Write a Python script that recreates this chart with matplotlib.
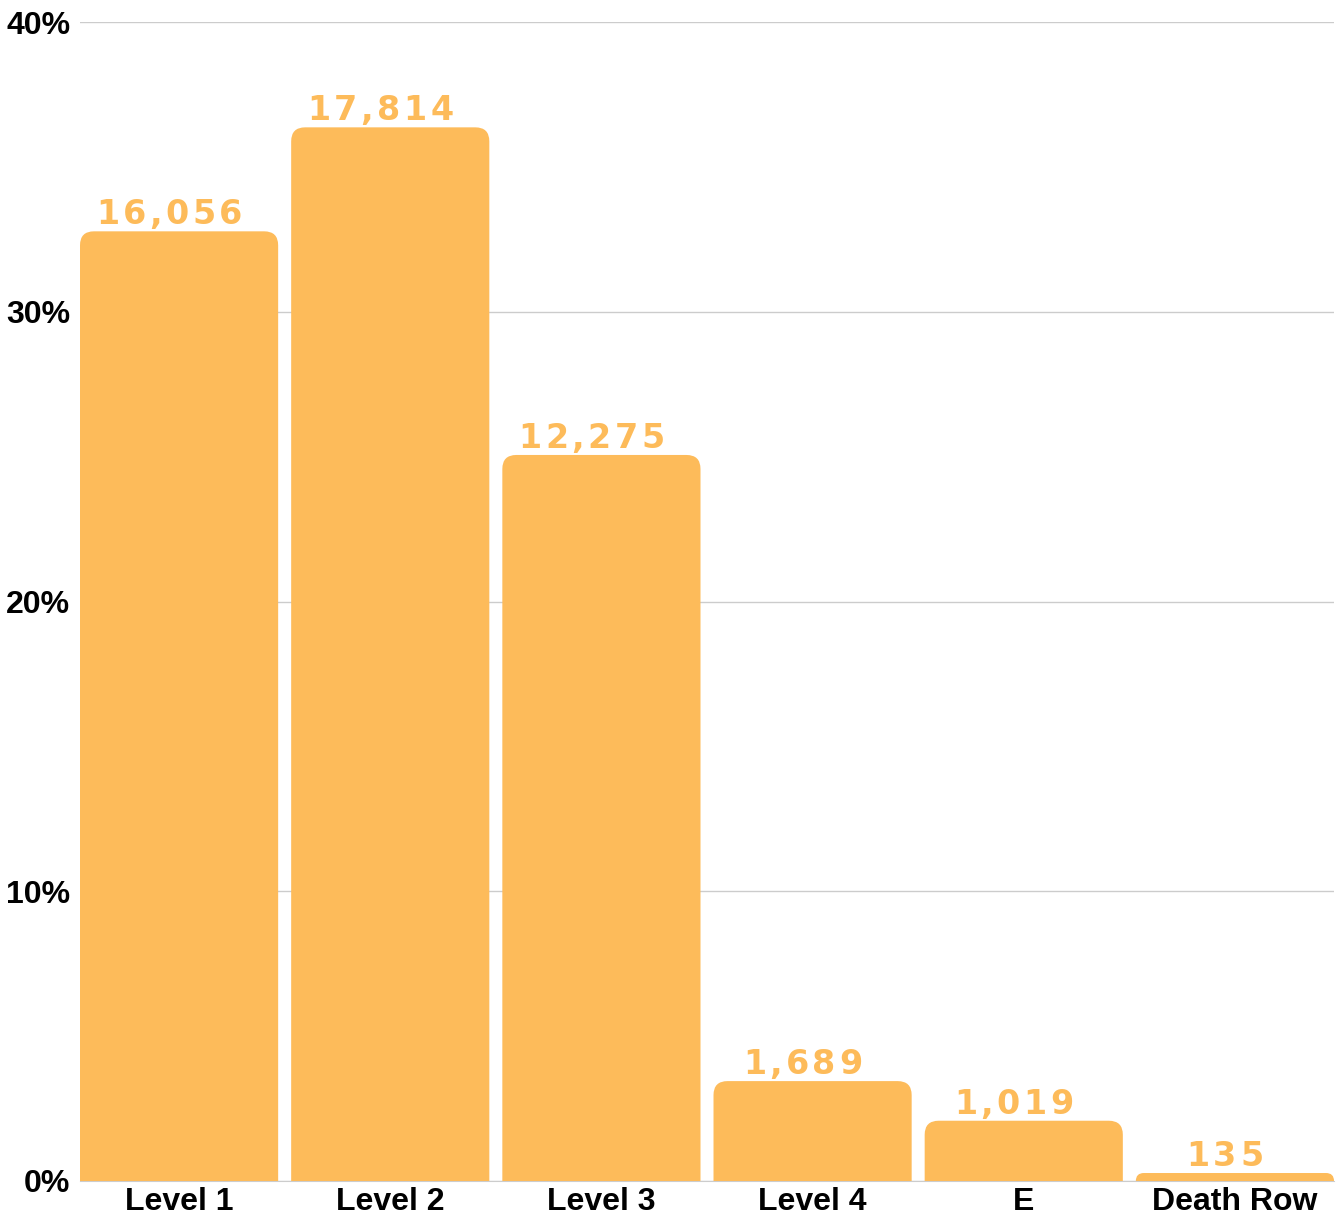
import matplotlib.pyplot as plt
from matplotlib.path import Path
from matplotlib.patches import PathPatch
from matplotlib.font_manager import FontProperties

categorias = ["Level 1", "Level 2", "Level 3", "Level 4", "E", "Death Row"]
cantidades = [16056, 17814, 12275, 1689, 1019, 135]
ticks_y = [0, 10, 20, 30, 40]

total = sum(cantidades)
porcentajes = [c / total * 100 for c in cantidades]

naranja = "#FDBB5A"

fig = plt.figure(figsize=(13.38, 12.15), dpi=100)
ax = fig.add_axes([80 / 1338, 1 - 1181 / 1215, 1254 / 1338, 1159 / 1215])

ancho = 198 / 211
barras = ax.bar(range(len(categorias)), porcentajes, width=ancho, color="none")

# barras con esquinas redondeadas arriba (una sola figura, sin costuras)
px_x = 211.0
px_y = 1159 / 40
for b in barras:
    x0, w, h = b.get_x(), b.get_width(), b.get_height()
    r_px = min(14.0, h * px_y)
    rx = r_px / px_x
    ry = r_px / px_y
    x1 = x0 + w
    verts = [(x0, 0), (x0, h - ry), (x0, h), (x0 + rx, h),
             (x1 - rx, h), (x1, h), (x1, h - ry), (x1, 0), (x0, 0)]
    codes = [Path.MOVETO, Path.LINETO, Path.CURVE3, Path.CURVE3,
             Path.LINETO, Path.CURVE3, Path.CURVE3, Path.LINETO, Path.CLOSEPOLY]
    ax.add_patch(PathPatch(Path(verts, codes), fc=naranja, ec="none", zorder=2))

ax.set_xlim(-ancho / 2, len(categorias) - 1 + ancho / 2)
ax.set_ylim(0, 40)

# etiquetas con espaciado entre letras
fp = FontProperties(family="DejaVu Sans", weight="bold", size=24)
renderer = fig.canvas.get_renderer()


def avance(ch):
    w = lambda s: renderer.get_text_width_height_descent(s, fp, ismath=False)[0]
    return w("0" + ch + "0") - w("00")


espacio = 3.5  # px
for i, (p, c) in enumerate(zip(porcentajes, cantidades)):
    texto = f"{c:,}"
    anchos = [avance(ch) for ch in texto]
    total_px = sum(anchos) + espacio * (len(texto) - 1)
    xc, yc = ax.transData.transform((i, p))
    xpos = xc - total_px / 2 - 10
    for ch, a in zip(texto, anchos):
        ax.annotate(ch, (i, p), xycoords="data",
                    xytext=((xpos + a / 2 - xc) * 72 / fig.dpi, 0), textcoords="offset points",
                    ha="center", va="bottom", color=naranja, fontproperties=fp, zorder=3)
        xpos += a + espacio

ax.set_yticks(ticks_y)
ax.set_yticklabels([f"{t}%" for t in ticks_y])
ax.set_xticks(range(len(categorias)))
ax.set_xticklabels(categorias)
for lab in ax.get_xticklabels() + ax.get_yticklabels():
    lab.set_family("Liberation Sans")
    lab.set_fontweight("bold")
    lab.set_fontsize(23)
ax.tick_params(length=0)
ax.tick_params(axis="x", pad=4)
ax.tick_params(axis="y", pad=7)
ax.grid(axis="y", color="#cccccc", linewidth=1, zorder=0)
ax.set_axisbelow(True)
for s in ["top", "right", "left"]:
    ax.spines[s].set_visible(False)
ax.spines["bottom"].set_color("#cccccc")
ax.spines["bottom"].set_zorder(1)

fig.savefig("out.png", dpi=100)
